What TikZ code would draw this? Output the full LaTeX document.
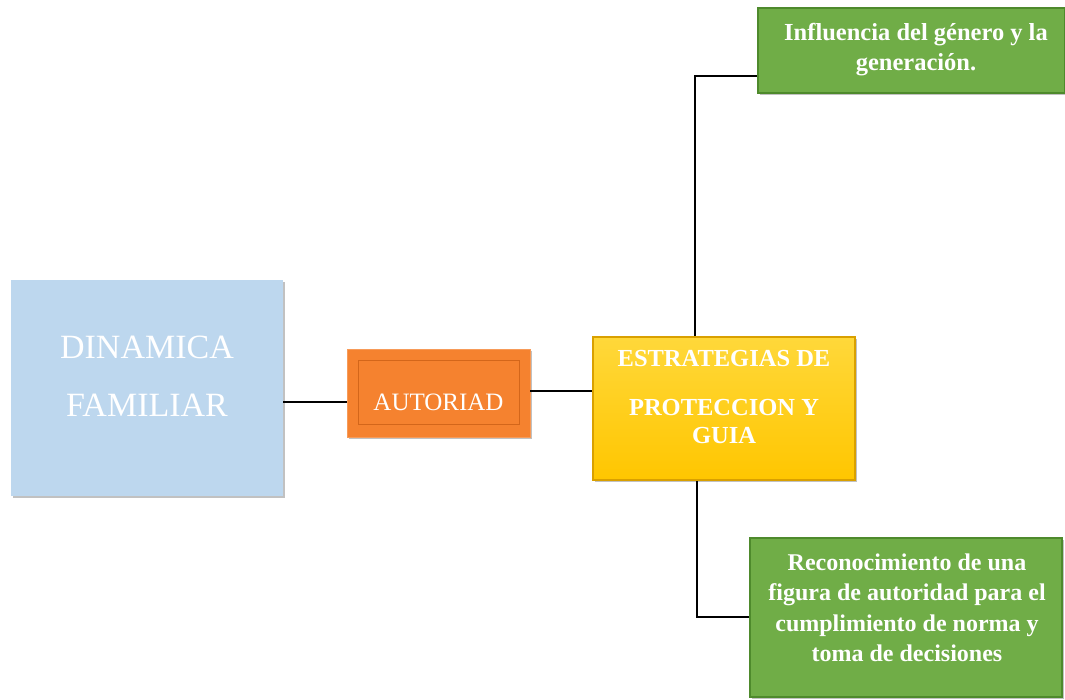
\documentclass[tikz,border=0pt]{standalone}
\usepackage{fontspec}
\setmainfont{Liberation Serif}
\usetikzlibrary{shadows}
\definecolor{lblue}{HTML}{BDD7EE}
\definecolor{orng}{HTML}{F5822F}
\definecolor{orngd}{HTML}{C55A11}
\definecolor{gold}{HTML}{FFC600}
\definecolor{goldl}{HTML}{FFD83A}
\definecolor{goldd}{HTML}{D9A000}
\definecolor{grn}{HTML}{70AD47}
\definecolor{grnd}{HTML}{4E8A2C}
\begin{document}
\begin{tikzpicture}[x=1pt,y=-1pt,
  conn/.style={black,line width=2.8pt},
  shad/.style={drop shadow={shadow xshift=2pt,shadow yshift=-2pt,opacity=0.35,fill=black!70}},
  bluebox/.style={fill=lblue,draw=none,shad},
  orangebox/.style={fill=orng,draw=orng!80!white,line width=0.6pt,shad},
  goldbox/.style={top color=goldl,bottom color=gold,draw=goldd,line width=1.5pt,shad},
  greenbox/.style={fill=grn,draw=grnd,line width=2pt,shad},
  lbl/.style={text=white,align=center,inner sep=0pt}
]
\useasboundingbox (0,0) rectangle (1065,700);
% boxes
\node[bluebox,minimum width=272pt,minimum height=216pt] (dyn) at (147,388) {};
\node[lbl,font=\fontsize{34}{58}\selectfont] (dynt) at (147,376) {DINAMICA\\FAMILIAR};
\node[orangebox,minimum width=183pt,minimum height=88pt,inner sep=0pt] (aut) at (438.5,393) {};
\draw[orngd!70!orng,line width=1pt] (358,360) rectangle (519,424);
\node[lbl,font=\fontsize{25}{26}\selectfont] (autt) at (438.5,402) {AUTORIAD};
\node[goldbox,minimum width=262pt,minimum height=143pt] (est) at (724,408.5) {};
\node[lbl,font=\bfseries\fontsize{24.5}{29}\selectfont] (est1) at (724,359) {ESTRATEGIAS DE};
\node[lbl,font=\bfseries\fontsize{24.5}{28}\selectfont] (est2) at (724,422) {PROTECCION Y\\GUIA};
\node[greenbox,minimum width=307pt,minimum height=85pt] (g1) at (911.5,50.5) {};
\node[lbl,font=\bfseries\fontsize{24.5}{30}\selectfont] (g1t) at (916,50) {Influencia del género y la\\generación.};
\node[greenbox,minimum width=312pt,minimum height=159pt] (g2) at (906,617.5) {};
\node[lbl,font=\bfseries\fontsize{24}{30.5}\selectfont] (g2t) at (907,608) {Reconocimiento de una\\figura de autoridad para el\\cumplimiento de norma y\\toma de decisiones};
% connectors
\draw[conn] (dyn.east |- 0,402) -- (aut.west |- 0,402);
\draw[conn] (aut.east |- 0,391) -- (est.west |- 0,391);
\coordinate (c1) at (695,76);
\coordinate (c2) at (697,617);
\draw[conn] (est.north -| c1) -- (c1) -- (g1.west |- c1);
\draw[conn] (est.south -| c2) -- (c2) -- (g2.west |- c2);
\end{tikzpicture}
\end{document}
